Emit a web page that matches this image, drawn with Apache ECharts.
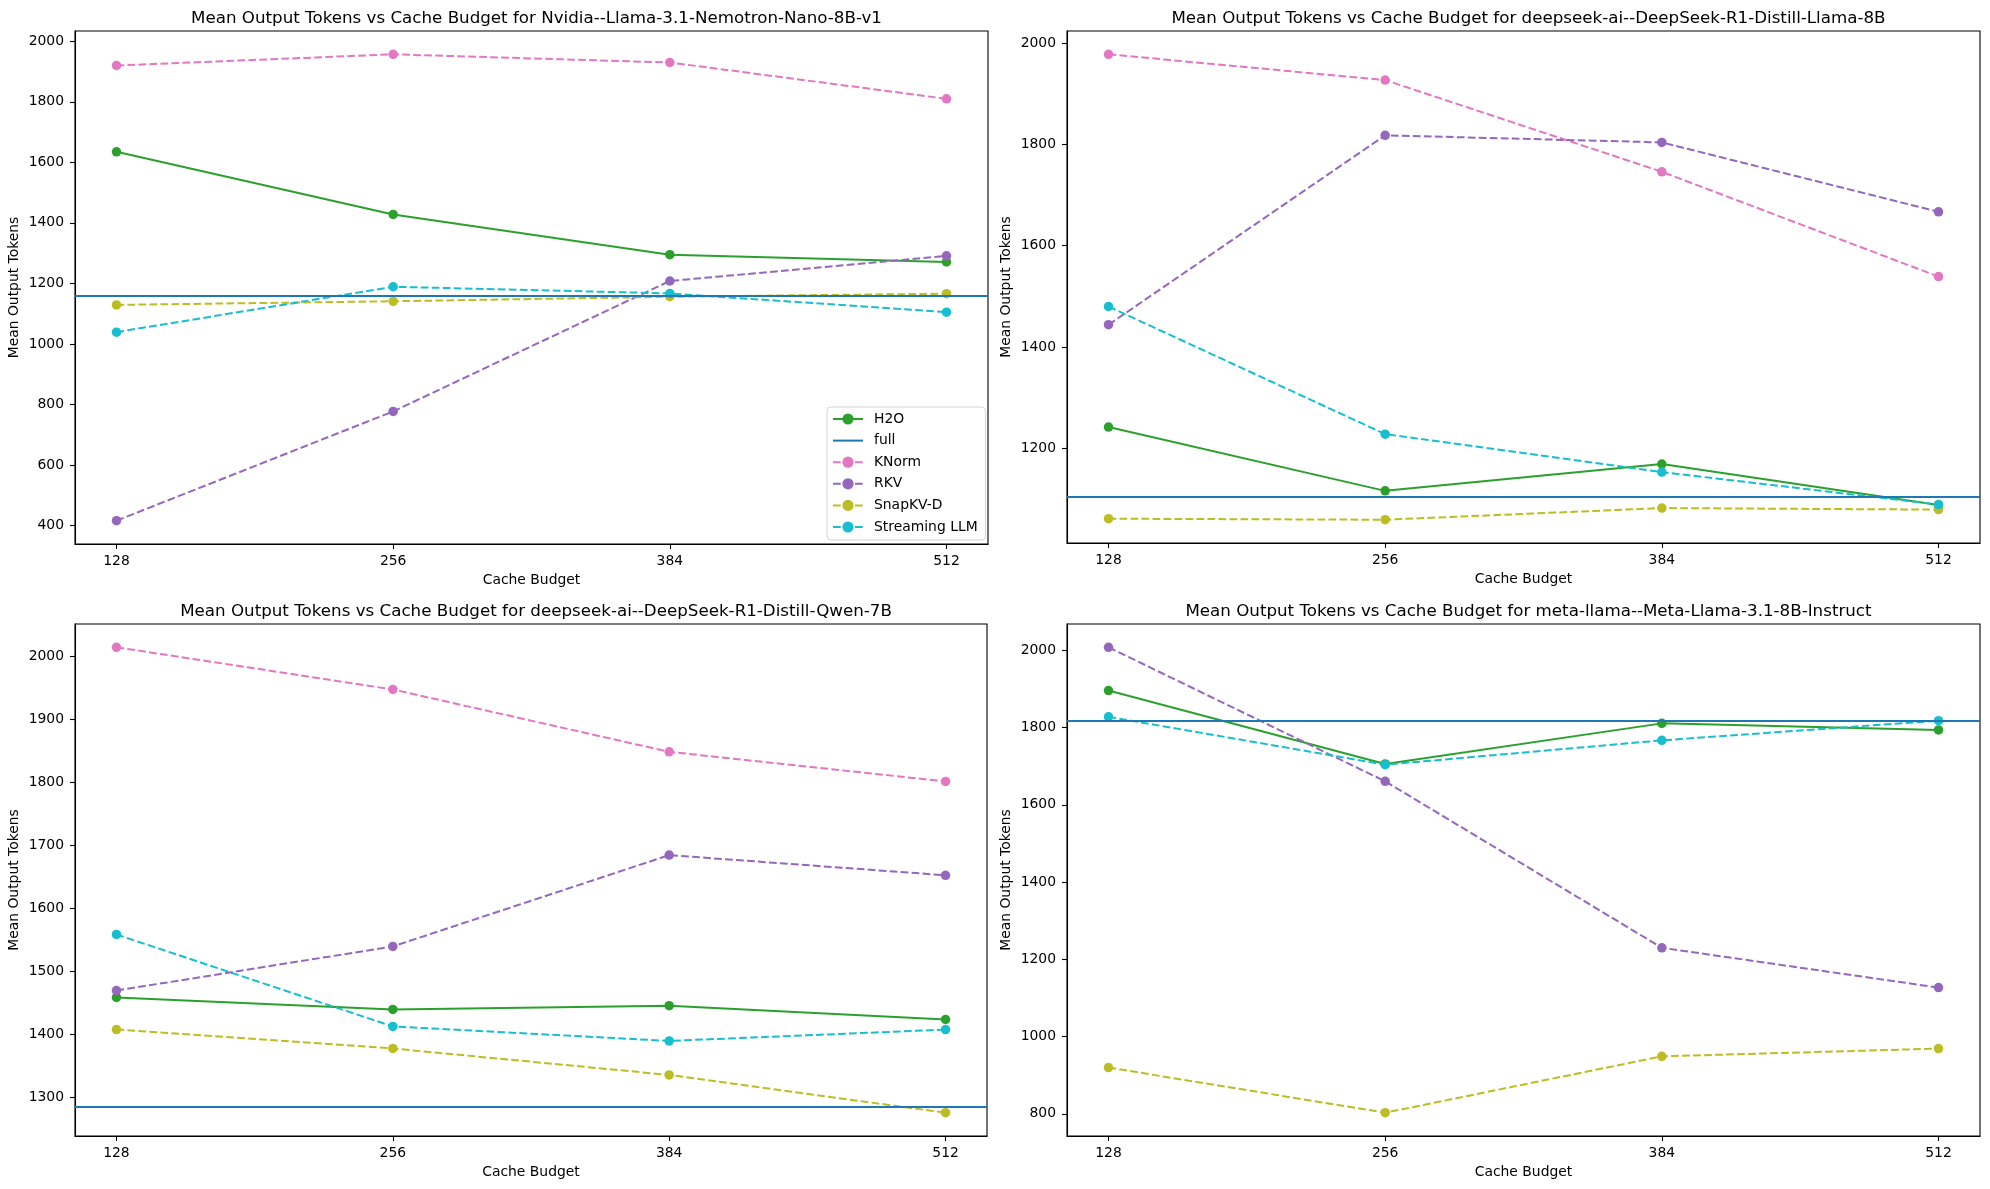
<!DOCTYPE html>
<html>
<head>
<meta charset="utf-8">
<script src="https://cdn.jsdelivr.net/npm/echarts@6/dist/echarts.min.js"></script>
<style>
html,body{margin:0;padding:0;background:#fff;}
#main{width:1990px;height:1189px;}
</style>
</head>
<body>
<div id="main"></div>
<script>
// ---- data ----
const budgets = [128, 256, 384, 512];
const methods = ['H2O', 'full', 'KNorm', 'RKV', 'SnapKV-D', 'Streaming LLM'];

const titles = [
  'Mean Output Tokens vs Cache Budget for Nvidia--Llama-3.1-Nemotron-Nano-8B-v1',
  'Mean Output Tokens vs Cache Budget for deepseek-ai--DeepSeek-R1-Distill-Llama-8B',
  'Mean Output Tokens vs Cache Budget for deepseek-ai--DeepSeek-R1-Distill-Qwen-7B',
  'Mean Output Tokens vs Cache Budget for meta-llama--Meta-Llama-3.1-8B-Instruct'
];

// Panel 1: Nemotron
const nemoH2O = [1635, 1428, 1295, 1271];
const nemoFull = 1160;
const nemoKNorm = [1920, 1957, 1930, 1810];
const nemoRKV = [416, 777, 1208, 1291];
const nemoSnap = [1129, 1141, 1156, 1166];
const nemoStream = [1039, 1189, 1167, 1105];

// Panel 2: DeepSeek-R1-Distill-Llama-8B
const dsLlamaH2O = [1242, 1116, 1169, 1088];
const dsLlamaFull = 1104;
const dsLlamaKNorm = [1978, 1927, 1746, 1539];
const dsLlamaRKV = [1444, 1818, 1804, 1667];
const dsLlamaSnap = [1061, 1059, 1082, 1079];
const dsLlamaStream = [1480, 1228, 1153, 1089];

// Panel 3: DeepSeek-R1-Distill-Qwen-7B
const dsQwenH2O = [1459, 1440, 1446, 1424];
const dsQwenFull = 1286;
const dsQwenKNorm = [2015, 1948, 1849, 1802];
const dsQwenRKV = [1470, 1540, 1685, 1653];
const dsQwenSnap = [1408, 1378, 1336, 1276];
const dsQwenStream = [1559, 1413, 1390, 1408];

// Panel 4: Meta-Llama-3.1-8B-Instruct (no KNorm)
const metaH2O = [1896, 1706, 1811, 1794];
const metaFull = 1817;
const metaRKV = [2008, 1661, 1230, 1127];
const metaSnap = [920, 803, 949, 969];
const metaStream = [1828, 1704, 1767, 1818];

// tick labels
const xTicks = [128, 256, 384, 512];
const yTicks1 = [400, 600, 800, 1000, 1200, 1400, 1600, 1800, 2000];
const yTicks2 = [1200, 1400, 1600, 1800, 2000];
const yTicks3 = [1300, 1400, 1500, 1600, 1700, 1800, 1900, 2000];
const yTicks4 = [800, 1000, 1200, 1400, 1600, 1800, 2000];

// ---- styling ----
const colors = {
  'H2O': '#2ca02c', 'full': '#1f77b4', 'KNorm': '#e377c2',
  'RKV': '#9467bd', 'SnapKV-D': '#bcbd22', 'Streaming LLM': '#17becf'
};
const dashed = [7.7, 3.3];
const FONT = 'DejaVu Sans';

const panels = [
  { title: titles[0], yTicks: yTicks1, full: nemoFull,
    lines: { 'H2O': nemoH2O, 'KNorm': nemoKNorm, 'RKV': nemoRKV, 'SnapKV-D': nemoSnap, 'Streaming LLM': nemoStream },
    grid: { left: 75, top: 31, width: 913, height: 513 } },
  { title: titles[1], yTicks: yTicks2, full: dsLlamaFull,
    lines: { 'H2O': dsLlamaH2O, 'KNorm': dsLlamaKNorm, 'RKV': dsLlamaRKV, 'SnapKV-D': dsLlamaSnap, 'Streaming LLM': dsLlamaStream },
    grid: { left: 1067, top: 31, width: 913, height: 512 } },
  { title: titles[2], yTicks: yTicks3, full: dsQwenFull,
    lines: { 'H2O': dsQwenH2O, 'KNorm': dsQwenKNorm, 'RKV': dsQwenRKV, 'SnapKV-D': dsQwenSnap, 'Streaming LLM': dsQwenStream },
    grid: { left: 75, top: 624, width: 912, height: 512 } },
  { title: titles[3], yTicks: yTicks4, full: metaFull,
    lines: { 'H2O': metaH2O, 'RKV': metaRKV, 'SnapKV-D': metaSnap, 'Streaming LLM': metaStream },
    grid: { left: 1067, top: 624, width: 913, height: 512 } }
];

const grids = [], xAxes = [], yAxes = [], series = [], titleOpts = [];
const xSpan = budgets[budgets.length - 1] - budgets[0];
const plain = v => String(Math.round(v));

panels.forEach((p, i) => {
  grids.push(Object.assign({ show: true, borderColor: '#000', borderWidth: 1.1, backgroundColor: 'transparent', containLabel: false }, p.grid));
  titleOpts.push({
    text: p.title,
    left: p.grid.left + p.grid.width / 2,
    top: p.grid.top - 26,
    textAlign: 'center',
    textStyle: { fontFamily: FONT, fontSize: 16.7, fontWeight: 'normal', color: '#000' }
  });
  let vals = [p.full];
  Object.values(p.lines).forEach(a => vals = vals.concat(a));
  const dmin = Math.min(...vals), dmax = Math.max(...vals);
  const m = 0.05 * (dmax - dmin);
  xAxes.push({
    type: 'value', gridIndex: i,
    min: budgets[0] - 0.05 * xSpan, max: budgets[budgets.length - 1] + 0.05 * xSpan,
    name: 'Cache Budget', nameLocation: 'middle', nameGap: 29,
    nameTextStyle: { fontFamily: FONT, fontSize: 13.9, color: '#000' },
    axisLine: { show: true, lineStyle: { color: '#000', width: 1.1 } },
    axisTick: { show: true, length: 5, lineStyle: { color: '#000', width: 1.1 }, customValues: xTicks },
    axisLabel: { fontFamily: FONT, fontSize: 13.9, color: '#000', margin: 10, customValues: xTicks, formatter: plain },
    splitLine: { show: false }
  });
  yAxes.push({
    type: 'value', gridIndex: i,
    min: dmin - m, max: dmax + m,
    name: 'Mean Output Tokens', nameLocation: 'middle', nameGap: 54, nameRotate: 90,
    nameTextStyle: { fontFamily: FONT, fontSize: 13.9, color: '#000' },
    axisLine: { show: true, lineStyle: { color: '#000', width: 1.1 } },
    axisTick: { show: true, length: 5, lineStyle: { color: '#000', width: 1.1 }, customValues: p.yTicks },
    axisLabel: { fontFamily: FONT, fontSize: 13.9, color: '#000', margin: 11, customValues: p.yTicks, formatter: plain },
    splitLine: { show: false }
  });
  methods.forEach(name => {
    if (name === 'full') {
      series.push({
        name: 'full', type: 'line', xAxisIndex: i, yAxisIndex: i,
        data: [], symbol: 'none', showSymbol: false,
        lineStyle: { color: colors.full, width: 2, type: 'solid' },
        itemStyle: { color: colors.full },
        markLine: {
          silent: true, symbol: ['none', 'none'], animation: false,
          label: { show: false },
          lineStyle: { color: colors.full, width: 2, type: 'solid' },
          emphasis: { disabled: true },
          data: [{ yAxis: p.full }]
        }
      });
      return;
    }
    const arr = p.lines[name];
    if (!arr) return;
    series.push({
      name: name, type: 'line', xAxisIndex: i, yAxisIndex: i,
      data: budgets.map((b, j) => [b, arr[j]]),
      symbol: 'circle', symbolSize: 9.5, showSymbol: true,
      lineStyle: { color: colors[name], width: 2, type: name === 'H2O' ? 'solid' : dashed },
      itemStyle: { color: colors[name] },
      emphasis: { disabled: true },
      z: 2
    });
  });
});

const legendData = methods.map(n => n === 'full'
  ? { name: 'full', icon: 'path://M0,0 M30,0 M30,14 M0,14 M0,6 L30,6 L30,8 L0,8 Z', itemStyle: { color: colors.full } }
  : { name: n });

const chart = echarts.init(document.getElementById('main'), null, { renderer: 'canvas' });
chart.setOption({
  animation: false,
  backgroundColor: '#fff',
  title: titleOpts,
  grid: grids,
  xAxis: xAxes,
  yAxis: yAxes,
  legend: {
    data: legendData,
    orient: 'vertical',
    left: 827, top: 407,
    itemWidth: 30, itemHeight: 14, itemGap: 7.6,
    padding: [5, 8, 6, 5],
    backgroundColor: 'rgba(255,255,255,0.8)',
    borderColor: '#d5d5d5', borderWidth: 1, borderRadius: 4,
    textStyle: { fontFamily: FONT, fontSize: 13.9, color: '#000', padding: [0, 0, 0, 6] },
    selectedMode: false
  },
  series: series
});
</script>
</body>
</html>
